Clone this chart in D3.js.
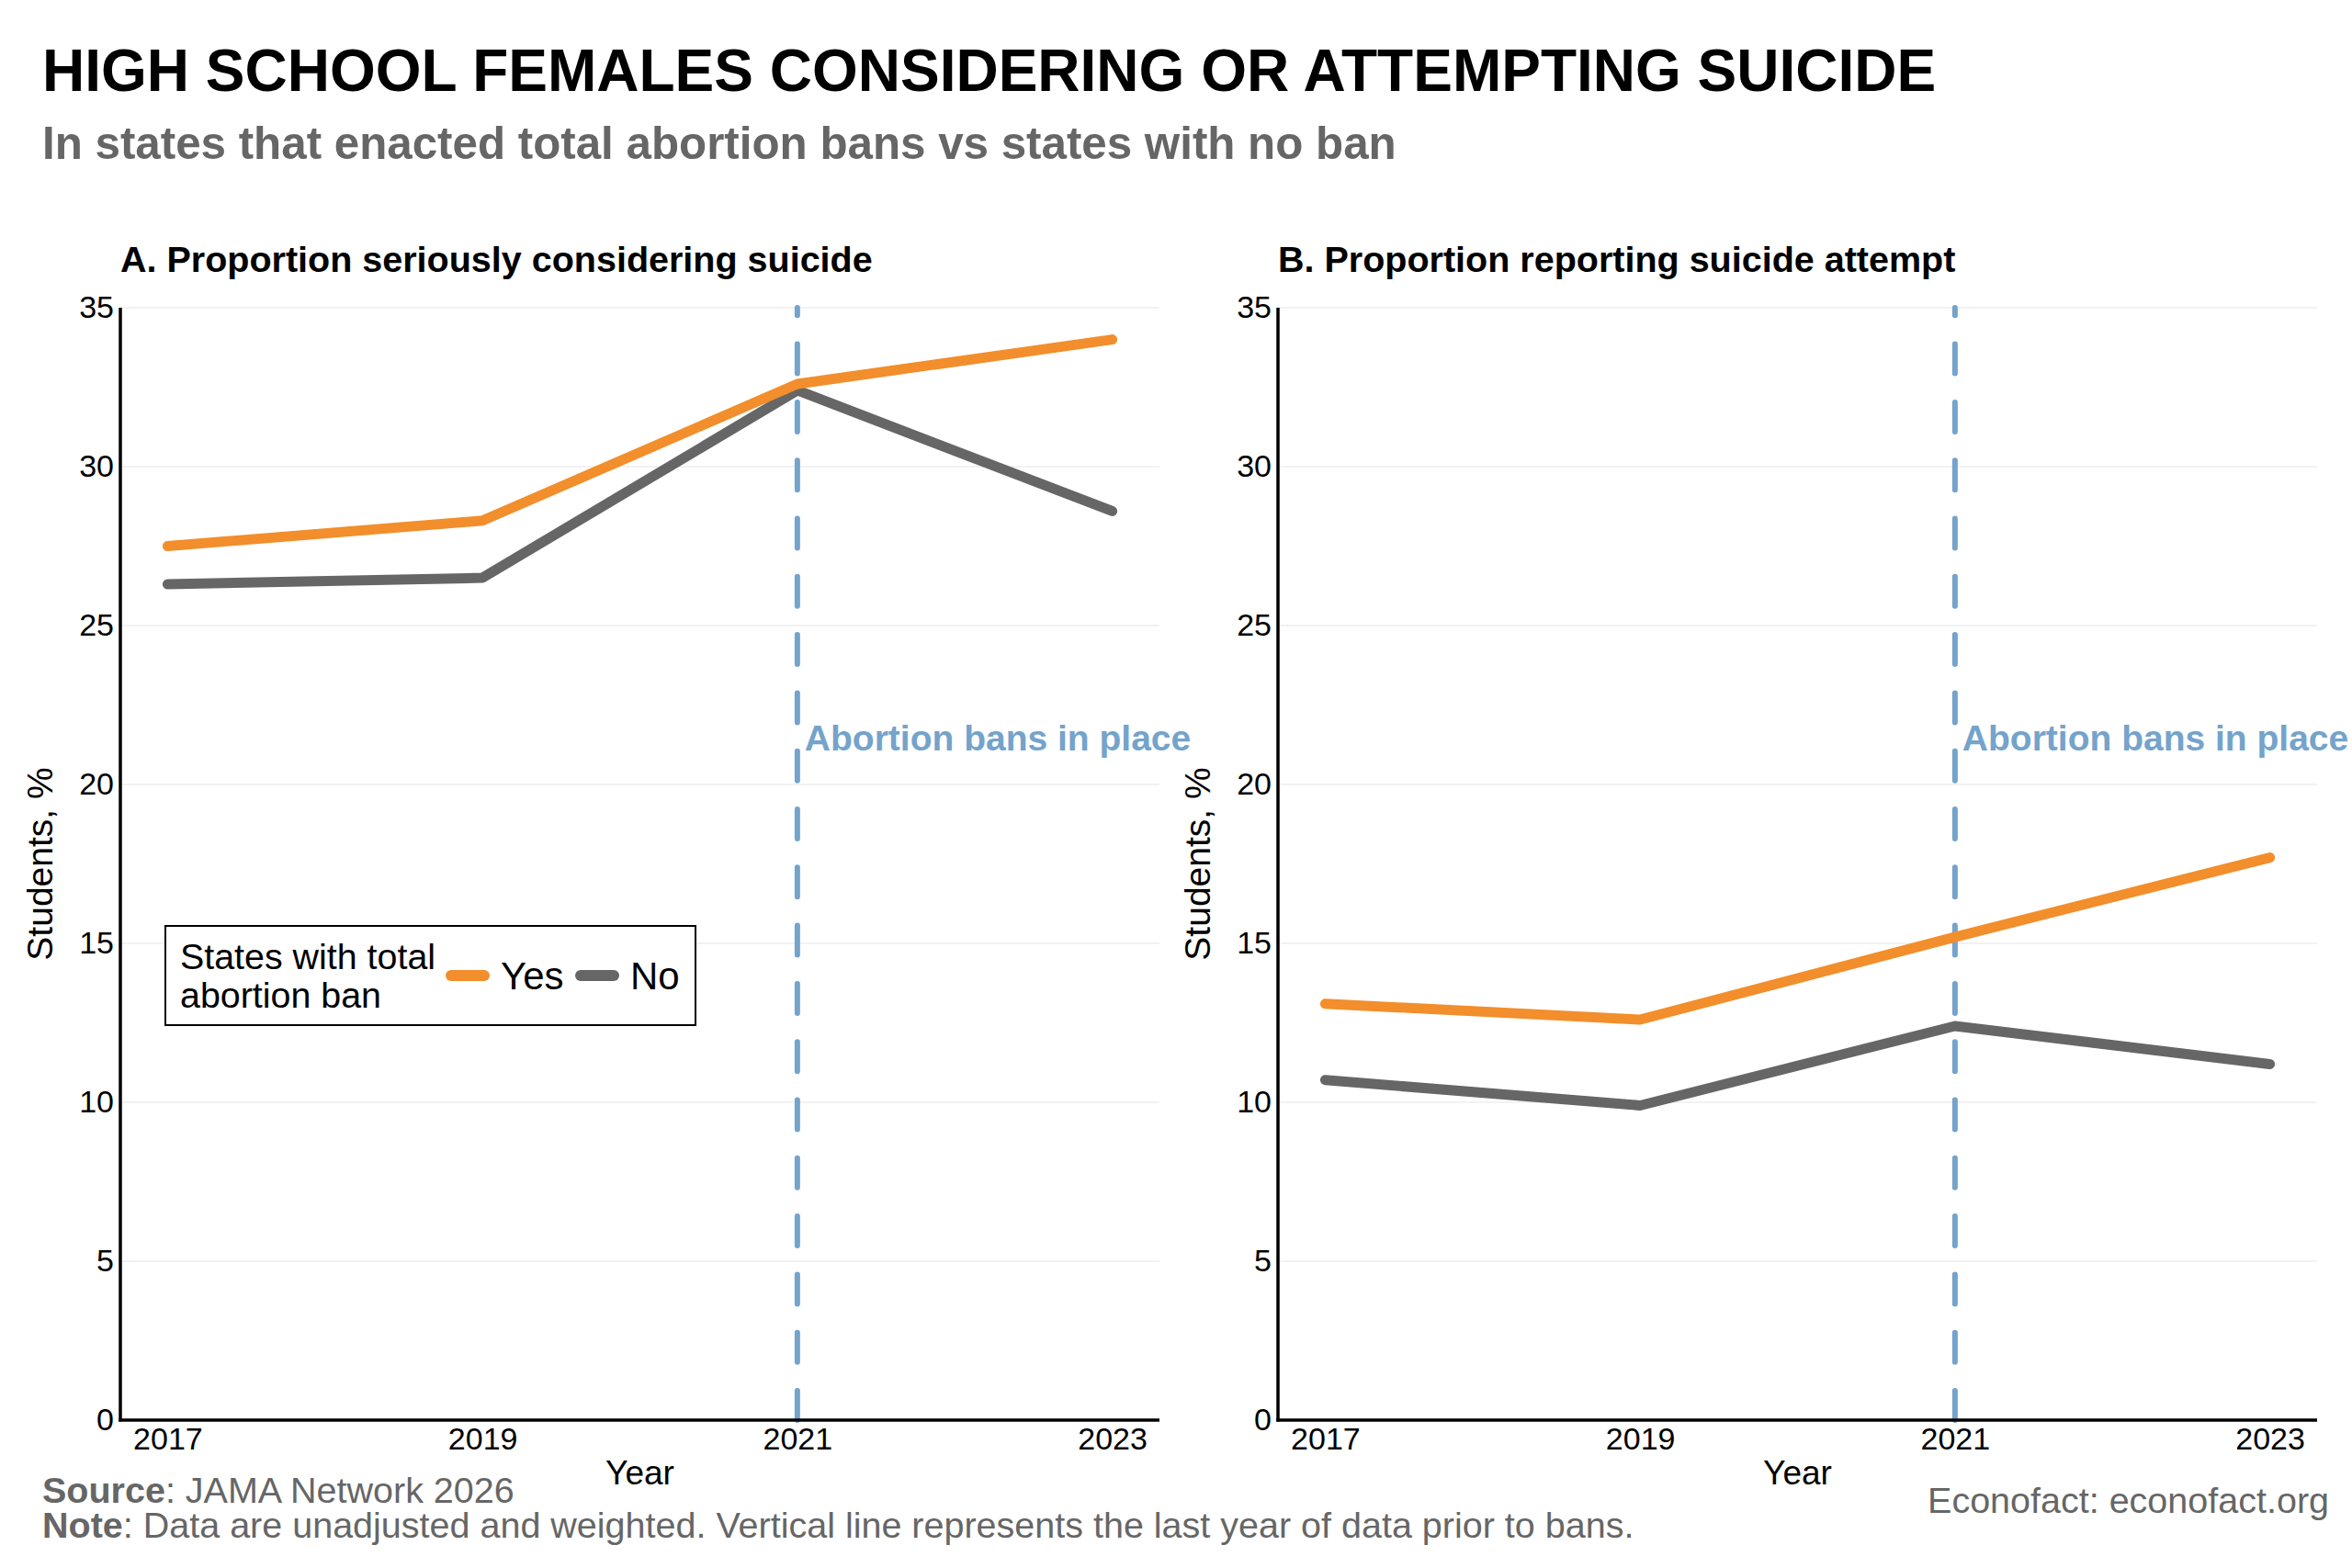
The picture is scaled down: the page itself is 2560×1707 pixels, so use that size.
<!DOCTYPE html>
<html>
<head>
<meta charset="utf-8">
<script src="https://cdn.jsdelivr.net/npm/d3@7"></script>
<style>
  html, body { margin: 0; padding: 0; background: #ffffff; }
  svg { display: block; font-family: 'Liberation Sans', Arial, sans-serif; }
</style>
</head>
<body>
<svg id="chart" width="2560" height="1707"></svg>
<script>
// data
const years = [2017, 2019, 2021, 2023]
const considerYes = [27.5, 28.3, 32.6, 34.0]
const considerNo = [26.3, 26.5, 32.4, 28.6]
const attemptYes = [13.1, 12.6, 15.2, 17.7]
const attemptNo = [10.7, 9.9, 12.4, 11.2]
const yTicks = [0, 5, 10, 15, 20, 25, 30, 35]
const banYear = 2021

const seriesColors = { Yes: '#f28e2b', No: '#666666' }
const refColor = '#74a3cb'

const panels = [
  { title: 'A. Proportion seriously considering suicide', left: 131, series: [{ key: 'Yes', values: considerYes }, { key: 'No', values: considerNo }], legend: true },
  { title: 'B. Proportion reporting suicide attempt', left: 1391, series: [{ key: 'Yes', values: attemptYes }, { key: 'No', values: attemptNo }], legend: false },
]

const svg = d3.select('#chart')
const plotTop = 335
const plotBottom = 1546
const panelWidth = 1131

svg.append('text').attr('x', 46).attr('y', 99).attr('font-size', 64).attr('font-weight', 700).attr('fill', '#000')
  .text('HIGH SCHOOL FEMALES CONSIDERING OR ATTEMPTING SUICIDE')
svg.append('text').attr('x', 46).attr('y', 173).attr('font-size', 49.3).attr('font-weight', 700).attr('fill', '#666666')
  .text('In states that enacted total abortion bans vs states with no ban')

panels.forEach((panel) => {
  const x = d3.scaleLinear().domain([2016.7, 2023.3]).range([panel.left, panel.left + panelWidth])
  const y = d3.scaleLinear().domain([0, 35]).range([plotBottom, plotTop])
  const g = svg.append('g')

  // grid
  g.append('g').selectAll('line').data(yTicks).join('line')
    .attr('x1', panel.left).attr('x2', panel.left + panelWidth)
    .attr('y1', (d) => y(d)).attr('y2', (d) => y(d))
    .attr('stroke', '#f2f2f2').attr('stroke-width', 2)

  // axes (no tick marks)
  const yAxis = g.append('g').attr('transform', `translate(${panel.left},0)`)
    .call(d3.axisLeft(y).tickValues(yTicks).tickSize(0).tickPadding(7))
  yAxis.select('.domain').remove()
  yAxis.selectAll('text').attr('font-size', 34).attr('fill', '#000').attr('font-family', "'Liberation Sans', Arial, sans-serif")

  const xAxis = g.append('g').attr('transform', `translate(0,${plotBottom})`)
    .call(d3.axisBottom(x).tickValues(years).tickFormat(d3.format('d')).tickSize(0).tickPadding(8))
  xAxis.select('.domain').remove()
  xAxis.selectAll('text').attr('font-size', 34).attr('fill', '#000').attr('font-family', "'Liberation Sans', Arial, sans-serif")

  g.append('line').attr('x1', panel.left).attr('x2', panel.left).attr('y1', plotTop).attr('y2', plotBottom + 1.5)
    .attr('stroke', '#000').attr('stroke-width', 3.5)

  // reference line at the last pre-ban year
  g.append('line')
    .attr('x1', x(banYear)).attr('x2', x(banYear)).attr('y1', y(0)).attr('y2', y(35))
    .attr('stroke', refColor).attr('stroke-width', 6)
    .attr('stroke-dasharray', '32 31.3').attr('stroke-linecap', 'round')

  g.append('text').attr('x', x(banYear) + 8).attr('y', 817)
    .attr('font-size', 39).attr('font-weight', 700).attr('fill', refColor)
    .text('Abortion bans in place')

  const line = d3.line().x((d, i) => x(years[i])).y((d) => y(d))
  // draw "No" first so "Yes" sits on top
  ;[...panel.series].reverse().forEach((s) => {
    g.append('path').datum(s.values).attr('d', line)
      .attr('fill', 'none').attr('stroke', seriesColors[s.key]).attr('stroke-width', 11)
      .attr('stroke-linecap', 'round').attr('stroke-linejoin', 'round')
  })

  g.append('line').attr('x1', panel.left - 1.75).attr('x2', panel.left + panelWidth).attr('y1', plotBottom).attr('y2', plotBottom)
    .attr('stroke', '#000').attr('stroke-width', 3.5)

  g.append('text').attr('x', panel.left).attr('y', 296).attr('font-size', 39.5).attr('font-weight', 700).attr('fill', '#000')
    .text(panel.title)

  g.append('text').attr('x', panel.left + panelWidth / 2).attr('y', 1616).attr('text-anchor', 'middle')
    .attr('font-size', 37).attr('fill', '#000').text('Year')

  g.append('text').attr('transform', `translate(${panel.left - 74},${(plotTop + plotBottom) / 2}) rotate(-90)`)
    .attr('text-anchor', 'middle').attr('font-size', 39).attr('fill', '#000').text('Students, %')

  if (panel.legend) {
    const lg = g.append('g').attr('transform', `translate(${panel.left + 49},1008)`)
    lg.append('rect').attr('width', 577).attr('height', 108).attr('fill', '#fff').attr('stroke', '#000').attr('stroke-width', 2)
    lg.append('text').attr('x', 16).attr('y', 47).attr('font-size', 39.4).attr('fill', '#000').text('States with total')
    lg.append('text').attr('x', 16).attr('y', 89).attr('font-size', 39.4).attr('fill', '#000').text('abortion ban')
    const keys = [{ key: 'Yes', x: 305 }, { key: 'No', x: 446 }]
    keys.forEach((k) => {
      lg.append('line').attr('x1', k.x + 6).attr('x2', k.x + 42).attr('y1', 54).attr('y2', 54)
        .attr('stroke', seriesColors[k.key]).attr('stroke-width', 12).attr('stroke-linecap', 'round')
      lg.append('text').attr('x', k.x + 60).attr('y', 69).attr('font-size', 42).attr('fill', '#000').text(k.key)
    })
  }
})

const src = svg.append('text').attr('x', 46).attr('y', 1636).attr('font-size', 39.5).attr('fill', '#666666')
src.append('tspan').attr('font-weight', 700).text('Source')
src.append('tspan').text(': JAMA Network 2026')
const note = svg.append('text').attr('x', 46).attr('y', 1674).attr('font-size', 39.5).attr('fill', '#666666')
note.append('tspan').attr('font-weight', 700).text('Note')
note.append('tspan').text(': Data are unadjusted and weighted. Vertical line represents the last year of data prior to bans.')

svg.append('text').attr('x', 2535).attr('y', 1647).attr('text-anchor', 'end').attr('font-size', 39.5).attr('fill', '#666666')
  .text('Econofact: econofact.org')
</script>
</body>
</html>
